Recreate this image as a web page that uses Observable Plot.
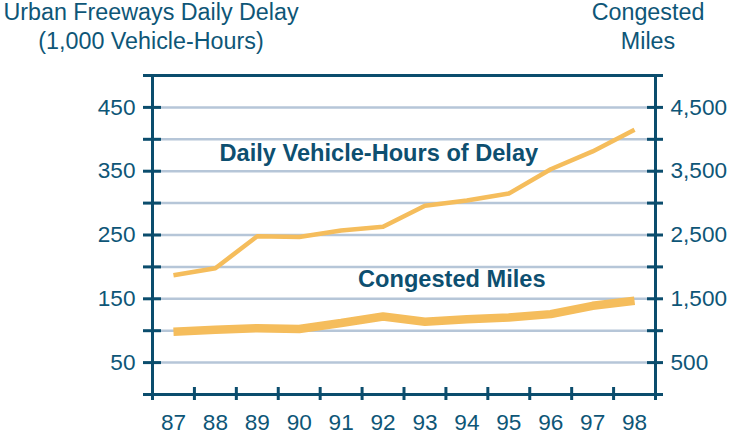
<!DOCTYPE html>
<html><head><meta charset="utf-8">
<script src="https://cdn.jsdelivr.net/npm/d3@7"></script>
<script src="https://cdn.jsdelivr.net/npm/@observablehq/plot@0.6"></script>
<style>
body{margin:0;background:#fff;}
#wrap{position:relative;width:730px;height:436px;font-family:"Liberation Sans",Arial,sans-serif;color:#0e5677;}
.t{position:absolute;text-align:center;font-size:23.3px;line-height:24px;white-space:nowrap;}
#chart{position:absolute;left:0;top:0;}
</style></head><body>
<div id="wrap">
<div id="chart"></div>
<div class="t" style="left:0;top:0;width:302px">Urban Freeways Daily Delay</div>
<div class="t" style="left:0;top:29px;width:302px">(1,000 Vehicle-Hours)</div>
<div class="t" style="left:588px;top:0;width:120px">Congested</div>
<div class="t" style="left:588px;top:29px;width:120px">Miles</div>
</div>
<script>
const years = [87, 88, 89, 90, 91, 92, 93, 94, 95, 96, 97, 98];
const dailyDelay = [187, 198, 248, 247, 257, 263, 296, 304, 315, 353, 381, 415];
const congestedMiles = [984, 1016, 1040, 1026, 1120, 1223, 1140, 1180, 1208, 1260, 1390, 1469];
const leftTickLabels = [50, 150, 250, 350, 450];
const rightTickLabels = [500, 1500, 2500, 3500, 4500];
const seriesLabels = ["Daily Vehicle-Hours of Delay", "Congested Miles"];

const delayData = years.map((yr, i) => ({year: yr, value: dailyDelay[i]}));
const milesData = years.map((yr, i) => ({year: yr, value: congestedMiles[i] / 10}));

const AXIS = "#0b4d6d";
const GRID = "#b6c6d8";
const LINE = "#f5bd5c";
const W = 730, H = 436, ML = 152, MR = 75, MT = 75, MB = 42;
const FW = W - ML - MR, FH = H - MT - MB;

const chart = Plot.plot({
  width: W, height: H,
  marginLeft: ML, marginRight: MR, marginTop: MT, marginBottom: MB,
  style: {fontFamily: "Liberation Sans, Arial, sans-serif", fontSize: "22.6px", color: "#0e5677", background: "transparent"},
  x: {type: "linear", domain: [86.5, 98.5]},
  y: {domain: [0, 500]},
  marks: [
    Plot.ruleY(d3.range(50, 500, 50), {stroke: GRID, strokeWidth: 2.5}),
    Plot.line(delayData, {x: "year", y: "value", stroke: LINE, strokeWidth: 4.5, strokeLinecap: "butt"}),
    Plot.line(milesData, {x: "year", y: "value", stroke: LINE, strokeWidth: 8.5, strokeLinecap: "butt", strokeLinejoin: "miter"}),
    Plot.frame({stroke: AXIS, strokeWidth: 3}),
    Plot.tickY(d3.range(0, 550, 50), {y: d => d, stroke: AXIS, strokeWidth: 3, insetLeft: -9, insetRight: FW - 9}),
    Plot.tickY(d3.range(0, 550, 50), {y: d => d, stroke: AXIS, strokeWidth: 3, insetLeft: FW - 8, insetRight: -8}),
    Plot.tickX(d3.range(86.5, 99, 1), {x: d => d, stroke: AXIS, strokeWidth: 3, insetTop: FH - 7, insetBottom: -6}),
    Plot.axisY(leftTickLabels, {anchor: "left", tickSize: 0, tickPadding: 17, label: null, fontSize: 22.6}),
    Plot.axisY(rightTickLabels.map(d => d / 10), {anchor: "right", tickSize: 0, tickPadding: 15, label: null, fontSize: 22.6, tickFormat: d => d3.format(",")(d * 10)}),
    Plot.axisX(years, {tickSize: 0, tickPadding: 19, label: null, fontSize: 22.6}),
    Plot.text([seriesLabels[0]], {x: () => 91.9, y: () => 378, text: d => d, fill: "#0d4f70", fontWeight: "bold", fontSize: 23.6}),
    Plot.text([seriesLabels[1]], {x: () => 93.64, y: () => 180, text: d => d, fill: "#0d4f70", fontWeight: "bold", fontSize: 23.6})
  ]
});
document.getElementById("chart").appendChild(chart);
</script>
</body></html>
